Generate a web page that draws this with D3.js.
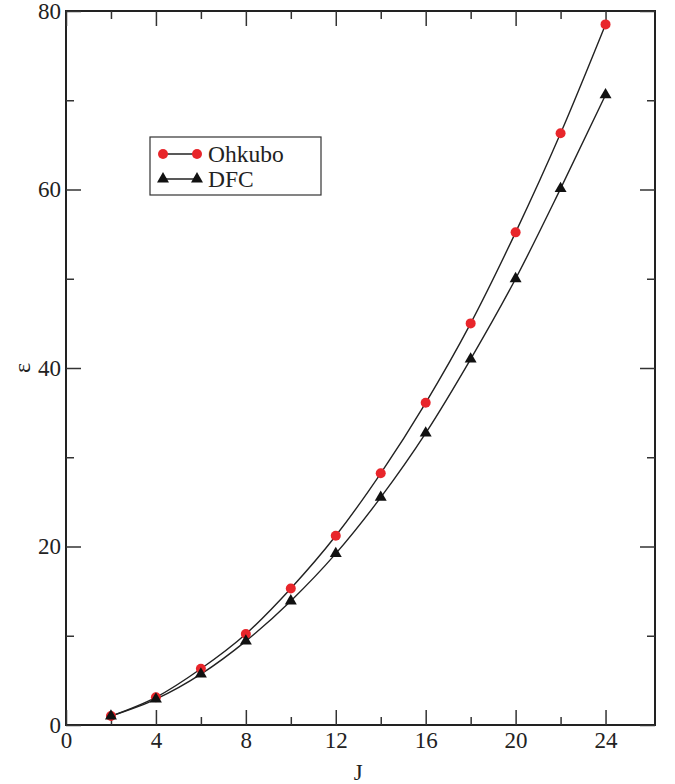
<!DOCTYPE html>
<html>
<head>
<meta charset="utf-8">
<script src="https://cdn.jsdelivr.net/npm/d3@7"></script>
<style>
  body { margin: 0; background: #fff; }
  text { font-family: "Liberation Serif", "Times New Roman", serif; fill: #222; }
</style>
</head>
<body>
<div id="chart"></div>
<script>
// data
var jValues = [2, 4, 6, 8, 10, 12, 14, 16, 18, 20, 22, 24];
var ohkubo = [1.0, 3.1, 6.3, 10.2, 15.3, 21.2, 28.2, 36.1, 45.0, 55.2, 66.3, 78.5];
var dfc = [1.0, 2.9, 5.7, 9.4, 13.9, 19.2, 25.5, 32.7, 41.0, 50.0, 60.1, 70.6];
var xTicks = [0, 4, 8, 12, 16, 20, 24];
var xMinor = [2, 6, 10, 14, 18, 22];
var yTicks = [0, 20, 40, 60, 80];
var yMinor = [10, 30, 50, 70];
var seriesNames = ["Ohkubo", "DFC"];

var svgWidth = 675;
var svgHeight = 784;
var margin = { top: 11, right: 20, bottom: 59, left: 66 };
var width = svgWidth - margin.left - margin.right;
var height = svgHeight - margin.top - margin.bottom;

var svg = d3.select("#chart")
  .append("svg")
  .attr("width", svgWidth)
  .attr("height", svgHeight);

var chartGroup = svg.append("g")
  .attr("transform", `translate(${margin.left}, ${margin.top})`);

var x = d3.scaleLinear().domain([0, 26.2]).range([0, width]);
var y = d3.scaleLinear().domain([0, 80]).range([height, 0]);

// frame
chartGroup.append("rect")
  .attr("width", width)
  .attr("height", height)
  .attr("fill", "none")
  .attr("stroke", "#222")
  .attr("stroke-width", 2);

// ticks pointing in, on all four sides
function tickSet(vals, len, label) {
  var bottom = chartGroup.append("g")
    .attr("transform", `translate(0, ${height})`)
    .call(d3.axisBottom(x).tickValues(vals).tickSize(-len).tickPadding(7)
      .tickFormat(label ? d3.format("d") : ""));
  var top = chartGroup.append("g")
    .call(d3.axisTop(x).tickValues(vals).tickSize(-len).tickFormat(""));
  var left = chartGroup.append("g")
    .call(d3.axisLeft(y).tickValues(label ? yTicks : yMinor).tickSize(-len).tickPadding(5)
      .tickFormat(label ? d3.format("d") : ""));
  var right = chartGroup.append("g")
    .attr("transform", `translate(${width}, 0)`)
    .call(d3.axisRight(y).tickValues(label ? yTicks : yMinor).tickSize(-len).tickFormat(""));
  [bottom, top, left, right].forEach(function(g) {
    g.select(".domain").remove();
    g.selectAll("line").attr("stroke", "#333").attr("stroke-width", 1.5);
    g.selectAll("text")
      .style("font-family", "'Liberation Serif', serif")
      .style("font-size", "23px")
      .attr("fill", "#222");
  });
}
tickSet(xTicks, 15, true);
tickSet(xMinor, 8, false);

// axis labels
chartGroup.append("text")
  .attr("x", x(13))
  .attr("y", height + 55)
  .attr("text-anchor", "middle")
  .style("font-size", "23px")
  .text("J");

chartGroup.append("text")
  .attr("transform", `translate(${-44}, ${y(40)}) rotate(-90)`)
  .attr("text-anchor", "middle")
  .attr("dy", "0.35em")
  .style("font-size", "24px")
  .text("ε");

// lines
var line = d3.line()
  .x(function(d, i) { return x(jValues[i]); })
  .y(function(d) { return y(d); })
  .curve(d3.curveMonotoneX);

[ohkubo, dfc].forEach(function(s) {
  chartGroup.append("path")
    .datum(s)
    .attr("d", line)
    .attr("fill", "none")
    .attr("stroke", "#222")
    .attr("stroke-width", 1.4);
});

var triangle = d3.symbol().type(d3.symbolTriangle).size(62);

chartGroup.selectAll(".dot")
  .data(ohkubo)
  .enter()
  .append("circle")
  .attr("class", "dot")
  .attr("cx", function(d, i) { return x(jValues[i]); })
  .attr("cy", function(d) { return y(d); })
  .attr("r", 5)
  .attr("fill", "#e8262b");

chartGroup.selectAll(".tri")
  .data(dfc)
  .enter()
  .append("path")
  .attr("class", "tri")
  .attr("d", triangle)
  .attr("transform", function(d, i) { return `translate(${x(jValues[i])}, ${y(d)})`; })
  .attr("fill", "#111");

// legend
var legend = svg.append("g").attr("transform", "translate(150, 137)");
legend.append("rect")
  .attr("width", 171)
  .attr("height", 58)
  .attr("fill", "#fff")
  .attr("stroke", "#333")
  .attr("stroke-width", 1.2);

seriesNames.forEach(function(name, i) {
  var ly = 17 + i * 25;
  legend.append("line")
    .attr("x1", 13).attr("x2", 47)
    .attr("y1", ly).attr("y2", ly)
    .attr("stroke", "#222").attr("stroke-width", 1.4);
  [13, 47].forEach(function(lx) {
    if (i === 0) {
      legend.append("circle").attr("cx", lx).attr("cy", ly).attr("r", 5).attr("fill", "#e8262b");
    } else {
      legend.append("path").attr("d", triangle)
        .attr("transform", `translate(${lx}, ${ly})`).attr("fill", "#111");
    }
  });
  legend.append("text")
    .attr("x", 58)
    .attr("y", ly)
    .attr("dy", "0.35em")
    .style("font-size", "23.5px")
    .text(name);
});
</script>
</body>
</html>
